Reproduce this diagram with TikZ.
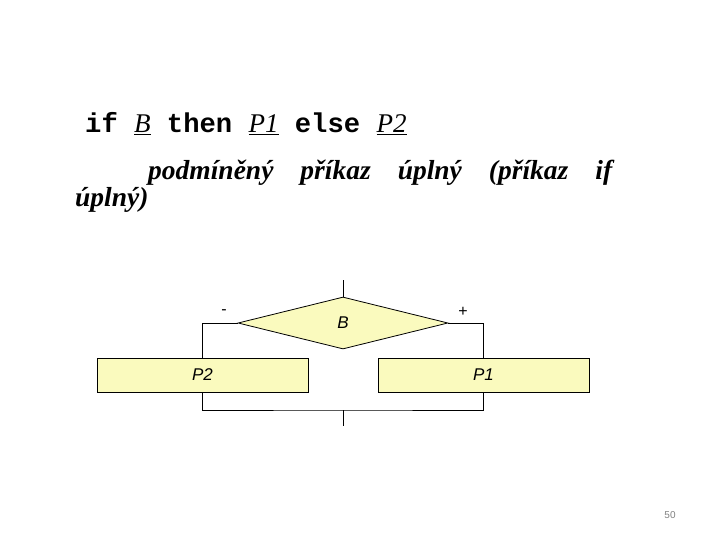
\documentclass[tikz,border=0pt]{standalone}
\usepackage{fontspec}
\setmainfont{Liberation Serif}
\setsansfont{Liberation Sans}
\setmonofont{Liberation Mono}
\usetikzlibrary{shapes.geometric}

\definecolor{boxyellow}{RGB}{250,250,190}
\newcommand{\kw}[1]{\texttt{\bfseries #1}}
\newcommand{\var}[1]{\underline{\rmfamily\itshape\fontsize{27}{30}\selectfont #1}}

\tikzset{
    flow/.style={draw=black, line width=0.8pt},
    stepbox/.style={draw=black, line width=0.8pt, fill=boxyellow, minimum width=211pt, minimum height=34pt, inner sep=0pt, font=\sffamily\itshape\fontsize{17}{19}\selectfont},
    cond/.style={draw=black, line width=0.8pt, fill=boxyellow, diamond, minimum width=210pt, minimum height=52pt, inner sep=0pt, font=\sffamily\itshape\fontsize{17}{19}\selectfont},
    sign/.style={font=\sffamily\fontsize{16}{18}\selectfont}
}

\begin{document}
\begin{tikzpicture}[x=1pt, y=-1pt]
    \useasboundingbox (0,0) rectangle (720,540);

    % Heading line
    \node[anchor=base west, inner sep=0pt, font=\ttfamily\fontsize{27.2}{30}\selectfont] (head) at (85,133)
        {\kw{if} \var{B} \kw{then} \var{P1} \kw{else} \var{P2}};

    % Description, justified over two lines
    \node[anchor=base west, inner sep=0pt, font=\rmfamily\bfseries\itshape\fontsize{27.5}{30}\selectfont] (line1) at (148,180)
        {\hbox to 464pt{podmíněný\hfill příkaz\hfill úplný\hfill (příkaz\hfill if}};
    \node[anchor=base west, inner sep=0pt, font=\rmfamily\bfseries\itshape\fontsize{27.5}{30}\selectfont] (line2) at (75,207)
        {úplný)};

    % Flowchart
    \node[cond] (b) at (343,323) {B};
    \node[stepbox] (p2) at (202.5,375) {P2};
    \node[stepbox] (p1) at (483.5,375) {P1};
    \coordinate (top) at (343,280);
    \coordinate (join) at (343,410);
    \coordinate (bot) at (343,426);

    \draw[flow] (top) -- (b.north);
    \draw[flow] (b.west) -| (p2.north);
    \draw[flow] (b.east) -| (p1.north);
    \draw[flow] (p2.south) |- (join) -| (p1.south);
    \draw[flow] (join) -- (bot);

    \node[sign] (minus) at (224,312) {-};
    \node[sign] (plus) at (463,312) {+};

    % Page number
    \node[font=\sffamily\fontsize{10}{12}\selectfont, text=gray] (page) at (670,515) {50};
\end{tikzpicture}
\end{document}
